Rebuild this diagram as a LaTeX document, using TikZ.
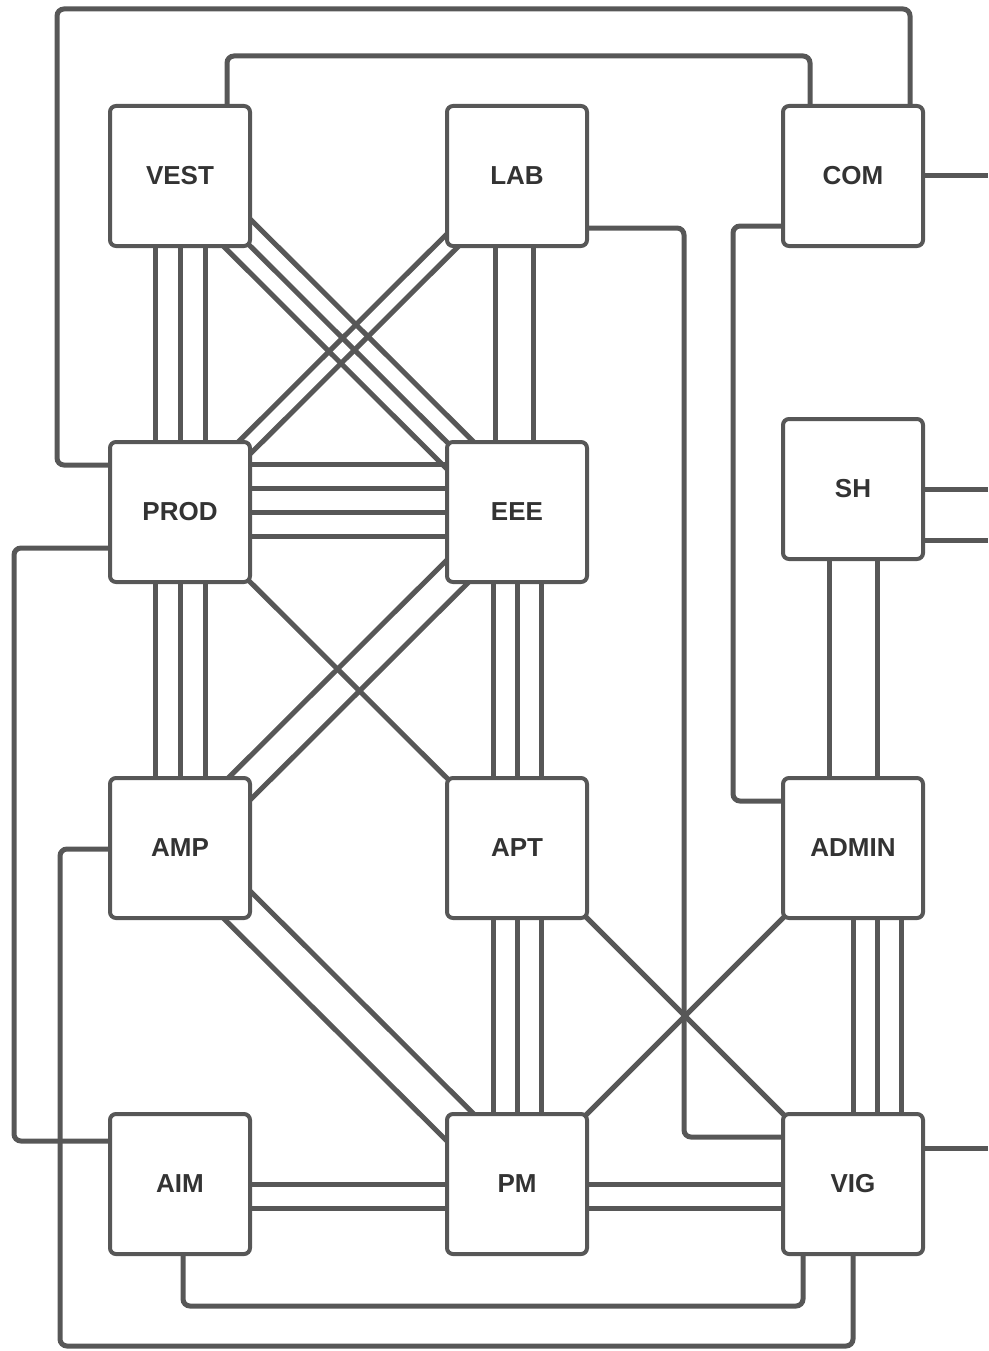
\documentclass[tikz,border=0pt]{standalone}
\usepackage{fontspec}
\setmainfont{Liberation Sans}
\usetikzlibrary{backgrounds}
\definecolor{linkgray}{HTML}{575757}
\definecolor{labelgray}{HTML}{333333}

\begin{document}
\begin{tikzpicture}[x=1pt, y=-1pt,
    % Unit boxes: white squares with rounded corners and bold labels.
    unit/.style={rectangle, draw=linkgray, fill=white, line width=4pt,
                 rounded corners=6pt, minimum width=140pt, minimum height=140pt,
                 font=\fontsize{26}{30}\selectfont\bfseries, text=labelgray},
    % Straight links between units.
    link/.style={draw=linkgray, line width=5pt},
    % Orthogonal links routed around the grid.
    route/.style={link, rounded corners=7pt}
]
    \useasboundingbox (0,0) rectangle (988,1351);

    % === Row 1 ===
    \node[unit] (vest)  at (180, 176)  {VEST};
    \node[unit] (lab)   at (517, 176)  {LAB};
    \node[unit] (com)   at (853, 176)  {COM};

    % === Row 2 ===
    \node[unit] (prod)  at (180, 512)  {PROD};
    \node[unit] (eee)   at (517, 512)  {EEE};
    \node[unit] (sh)    at (853, 489)  {SH};

    % === Row 3 ===
    \node[unit] (amp)   at (180, 848)  {AMP};
    \node[unit] (apt)   at (517, 848)  {APT};
    \node[unit] (admin) at (853, 848)  {ADMIN};

    % === Row 4 ===
    \node[unit] (aim)   at (180, 1184) {AIM};
    \node[unit] (pm)    at (517, 1184) {PM};
    \node[unit] (vig)   at (853, 1184) {VIG};

    % Open ends leaving the picture on the right.
    \coordinate (comout) at (988, 176);
    \coordinate (shouta) at (988, 489);
    \coordinate (shoutb) at (988, 540);
    \coordinate (vigout) at (988, 1148);

    \begin{scope}[on background layer]
    % === Vertical bundles ===
    \foreach \dx in {-25,0,25} {
        \draw[link] ([xshift=\dx]vest.center) -- ([xshift=\dx]prod.center);
        \draw[link] ([xshift=\dx]prod.center) -- ([xshift=\dx]amp.center);
    }
    \foreach \dx in {-22,16}
        \draw[link] ([xshift=\dx]lab.center) -- ([xshift=\dx]eee.center);
    \foreach \dx in {-24,0,24} {
        \draw[link] ([xshift=\dx]eee.center) -- ([xshift=\dx]apt.center);
        \draw[link] ([xshift=\dx]apt.center) -- ([xshift=\dx]pm.center);
    }
    \foreach \dx in {-24,24}
        \draw[link] ([xshift=\dx]sh.center) -- ([xshift=\dx]admin.center);
    \foreach \dx in {0,24,48}
        \draw[link] ([xshift=\dx]admin.center) -- ([xshift=\dx]vig.center);

    % === Horizontal bundles ===
    \foreach \dy in {48,24,0,-24}
        \draw[link] ([yshift=\dy]prod.center) -- ([yshift=\dy]eee.center);
    \foreach \dy in {0,-24} {
        \draw[link] ([yshift=\dy]aim.center) -- ([yshift=\dy]pm.center);
        \draw[link] ([yshift=\dy]pm.center) -- ([yshift=\dy]vig.center);
    }

    % === Diagonal bundles ===
    \foreach \dx in {-27,0,27}
        \draw[link] ([xshift=\dx]vest.center) -- ([xshift=\dx]eee.center);
    \foreach \dx in {-12,12}
        \draw[link] ([xshift=\dx]lab.center) -- ([xshift=\dx]prod.center);
    \foreach \dx in {-22,22}
        \draw[link] ([xshift=\dx]eee.center) -- ([xshift=\dx]amp.center);
    \foreach \dx in {-27,27}
        \draw[link] ([xshift=\dx]amp.center) -- ([xshift=\dx]pm.center);
    \draw[link] (prod.center) -- (apt.center);
    \draw[link] (apt.center) -- (vig.center);
    \draw[link] (admin.center) -- (pm.center);

    % === Routed links ===
    \draw[route] ([yshift=47]prod.west) -| (57, 9) -| ([xshift=57]com.north);
    \draw[route] ([xshift=47]vest.north) |- (810, 56) -- ([xshift=-43]com.north);
    \draw[route] ([yshift=-52]lab.east) -| (684, 1137) -- ([yshift=47]vig.west);
    \draw[route] ([yshift=-50]com.west) -| (733, 801) -- ([yshift=47]admin.west);
    \draw[route] ([yshift=-36]prod.west) -| (14, 1141) -- ([yshift=43]aim.west);
    \draw[route] ([yshift=-1]amp.west) -| (60, 1346) -| (vig.south);
    \draw[route] ([xshift=3]aim.south) |- (803, 1306) -- ([xshift=-50]vig.south);

    % === Open ends ===
    \draw[link] (com.east) -- (comout);
    \draw[link] (sh.east) -- (shouta);
    \draw[link] ([yshift=-51]sh.east) -- (shoutb);
    \draw[link] ([yshift=36]vig.east) -- (vigout);
    \end{scope}

\end{tikzpicture}
\end{document}
